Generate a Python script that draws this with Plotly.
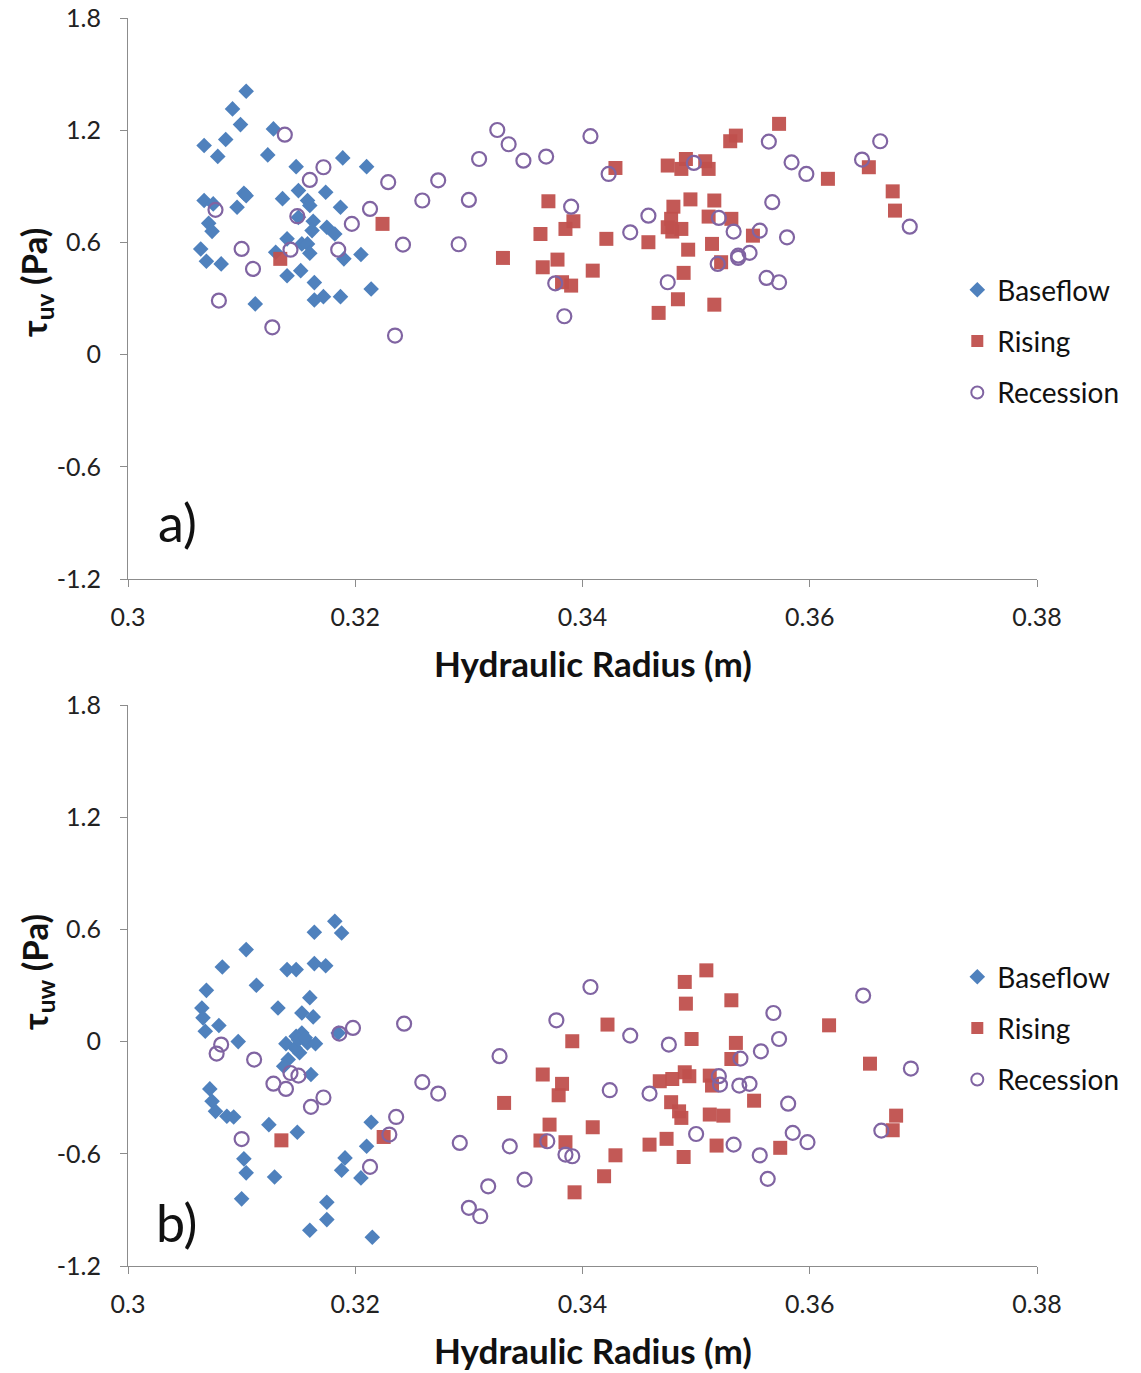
import plotly.graph_objects as go

# ---------------- Panel a) tau_uv ----------------
a_base_x = [0.3104, 0.3092, 0.3099, 0.3128, 0.3067, 0.3086, 0.3079, 0.3123, 0.3148, 0.3189,
            0.3210, 0.3067, 0.3102, 0.3104, 0.3096, 0.3136, 0.3150, 0.3158, 0.3160, 0.3174,
            0.3187, 0.3075, 0.3071, 0.3074, 0.3150, 0.3163, 0.3162, 0.3175, 0.3182, 0.3140,
            0.3153, 0.3158, 0.3160, 0.3190, 0.3205, 0.3064, 0.3069, 0.3082, 0.3130, 0.3140,
            0.3152, 0.3164, 0.3164, 0.3172, 0.3187, 0.3214, 0.3112]
a_base_y = [1.408, 1.314, 1.230, 1.207, 1.118, 1.150, 1.060, 1.068, 1.005, 1.052,
            1.005, 0.824, 0.863, 0.850, 0.788, 0.834, 0.877, 0.824, 0.797, 0.868,
            0.788, 0.806, 0.702, 0.659, 0.734, 0.713, 0.663, 0.681, 0.645, 0.619,
            0.592, 0.592, 0.542, 0.512, 0.535, 0.565, 0.499, 0.485, 0.547, 0.422,
            0.449, 0.385, 0.292, 0.310, 0.310, 0.351, 0.271]

a_rise_x = [0.3224, 0.3134, 0.3429, 0.3475, 0.3370, 0.3392, 0.3385, 0.3363, 0.3421, 0.3458,
            0.3330, 0.3378, 0.3365, 0.3382, 0.3390, 0.3409, 0.3467, 0.3573, 0.3535, 0.3530,
            0.3491, 0.3487, 0.3508, 0.3511, 0.3616, 0.3652, 0.3673, 0.3675, 0.3495, 0.3516,
            0.3480, 0.3511, 0.3531, 0.3478, 0.3475, 0.3479, 0.3487, 0.3493, 0.3514, 0.3550,
            0.3522, 0.3489, 0.3484, 0.3516]
a_rise_y = [0.699, 0.512, 0.998, 1.011, 0.820, 0.713, 0.672, 0.645, 0.619, 0.601,
            0.517, 0.508, 0.467, 0.387, 0.369, 0.449, 0.223, 1.234, 1.171, 1.141,
            1.046, 0.993, 1.034, 0.993, 0.940, 1.002, 0.873, 0.770, 0.830, 0.824,
            0.791, 0.738, 0.726, 0.726, 0.681, 0.658, 0.672, 0.561, 0.592, 0.636,
            0.494, 0.437, 0.296, 0.267]

a_rec_x = [0.3138, 0.3172, 0.3160, 0.3229, 0.3259, 0.3077, 0.3149, 0.3213, 0.3197, 0.3242,
           0.3100, 0.3143, 0.3185, 0.3110, 0.3080, 0.3127, 0.3235, 0.3325, 0.3335, 0.3309,
           0.3348, 0.3368, 0.3407, 0.3423, 0.3273, 0.3300, 0.3390, 0.3458, 0.3442, 0.3291,
           0.3376, 0.3475, 0.3384, 0.3564, 0.3662, 0.3646, 0.3584, 0.3597, 0.3498, 0.3567,
           0.3520, 0.3533, 0.3556, 0.3688, 0.3580, 0.3537, 0.3547, 0.3537, 0.3519, 0.3562,
           0.3573]
a_rec_y = [1.176, 1.002, 0.934, 0.922, 0.824, 0.774, 0.740, 0.779, 0.699, 0.588,
           0.565, 0.561, 0.561, 0.458, 0.289, 0.146, 0.102, 1.201, 1.125, 1.046,
           1.037, 1.059, 1.168, 0.966, 0.932, 0.827, 0.791, 0.743, 0.654, 0.590,
           0.381, 0.387, 0.205, 1.139, 1.141, 1.043, 1.028, 0.966, 1.025, 0.815,
           0.731, 0.658, 0.663, 0.684, 0.627, 0.529, 0.544, 0.517, 0.485, 0.410,
           0.387]

# ---------------- Panel b) tau_uw ----------------
b_base_x = [0.3182, 0.3188, 0.3164, 0.3104, 0.3083, 0.3140, 0.3148, 0.3164, 0.3174, 0.3069,
            0.3113, 0.3160, 0.3065, 0.3066, 0.3068, 0.3080, 0.3132, 0.3153, 0.3163, 0.3097,
            0.3139, 0.3148, 0.3153, 0.3158, 0.3165, 0.3151, 0.3147, 0.3141, 0.3137, 0.3161,
            0.3185, 0.3072, 0.3074, 0.3077, 0.3087, 0.3093, 0.3124, 0.3149, 0.3214, 0.3210,
            0.3102, 0.3104, 0.3129, 0.3191, 0.3188, 0.3205, 0.3100, 0.3175, 0.3175, 0.3160,
            0.3215, 0.3150, 0.3156]
b_base_y = [0.643, 0.581, 0.585, 0.492, 0.399, 0.385, 0.385, 0.417, 0.406, 0.274,
            0.301, 0.235, 0.180, 0.127, 0.055, 0.086, 0.180, 0.153, 0.132, 0.000,
            -0.011, 0.028, 0.046, -0.007, -0.011, -0.060, -0.034, -0.096, -0.132, -0.176,
            0.046, -0.253, -0.319, -0.373, -0.399, -0.403, -0.444, -0.485, -0.431, -0.560,
            -0.627, -0.702, -0.724, -0.622, -0.688, -0.729, -0.841, -0.859, -0.952, -1.009,
            -1.046, 0.010, 0.020]

b_rise_x = [0.3135, 0.3225, 0.3422, 0.3391, 0.3365, 0.3382, 0.3379, 0.3331, 0.3468, 0.3371,
            0.3409, 0.3363, 0.3385, 0.3429, 0.3459, 0.3474, 0.3419, 0.3393, 0.3509, 0.3490,
            0.3491, 0.3531, 0.3617, 0.3496, 0.3535, 0.3531, 0.3653, 0.3490, 0.3494, 0.3479,
            0.3512, 0.3514, 0.3551, 0.3478, 0.3485, 0.3487, 0.3512, 0.3524, 0.3676, 0.3673,
            0.3518, 0.3574, 0.3489]
b_rise_y = [-0.528, -0.510, 0.091, 0.002, -0.176, -0.226, -0.287, -0.328, -0.212, -0.444,
            -0.458, -0.529, -0.538, -0.608, -0.551, -0.520, -0.720, -0.806, 0.381, 0.319,
            0.203, 0.221, 0.087, 0.014, -0.007, -0.093, -0.118, -0.164, -0.185, -0.200,
            -0.182, -0.235, -0.316, -0.324, -0.373, -0.408, -0.390, -0.396, -0.396, -0.474,
            -0.556, -0.568, -0.617]

b_rec_x = [0.3243, 0.3198, 0.3186, 0.3082, 0.3078, 0.3111, 0.3143, 0.3150, 0.3128, 0.3139,
           0.3259, 0.3172, 0.3161, 0.3236, 0.3230, 0.3100, 0.3213, 0.3407, 0.3377, 0.3442,
           0.3476, 0.3327, 0.3273, 0.3424, 0.3459, 0.3292, 0.3336, 0.3369, 0.3385, 0.3391,
           0.3317, 0.3349, 0.3300, 0.3310, 0.3647, 0.3568, 0.3573, 0.3557, 0.3539, 0.3689,
           0.3520, 0.3521, 0.3538, 0.3547, 0.3581, 0.3500, 0.3585, 0.3598, 0.3663, 0.3533,
           0.3556, 0.3563]
b_rec_y = [0.096, 0.073, 0.043, -0.016, -0.064, -0.096, -0.168, -0.182, -0.225, -0.253,
           -0.217, -0.299, -0.349, -0.403, -0.497, -0.521, -0.670, 0.292, 0.114, 0.032,
           -0.016, -0.078, -0.278, -0.260, -0.278, -0.542, -0.560, -0.533, -0.604, -0.613,
           -0.774, -0.738, -0.889, -0.934, 0.246, 0.153, 0.014, -0.052, -0.091, -0.144,
           -0.185, -0.230, -0.235, -0.226, -0.332, -0.494, -0.488, -0.538, -0.476, -0.551,
           -0.608, -0.734]

series_names = ["Baseflow", "Rising", "Recession"]
x_ticks = [0.30, 0.32, 0.34, 0.36, 0.38]
x_tick_text = ["0.3", "0.32", "0.34", "0.36", "0.38"]
y_ticks = [-1.2, -0.6, 0, 0.6, 1.2, 1.8]
y_tick_text = ["-1.2", "-0.6", "0", "0.6", "1.2", "1.8"]

FONT = "Lato, 'Open Sans', sans-serif"
BLUE = "#4F81BD"
RED = "#C0504D"
PURPLE = "#8064A2"
AXIS = "#8C8C8C"

styles = [
    dict(mode="markers", marker=dict(symbol="diamond", size=12, color=BLUE)),
    dict(mode="markers", marker=dict(symbol="square", size=14, color=RED, opacity=0.95)),
    dict(mode="markers", marker=dict(symbol="circle-open", size=14, color=PURPLE,
                                     line=dict(width=2.2, color=PURPLE))),
]

fig = go.Figure()
panels = [
    ("x", "y", "legend", [(a_base_x, a_base_y), (a_rise_x, a_rise_y), (a_rec_x, a_rec_y)]),
    ("x2", "y2", "legend2", [(b_base_x, b_base_y), (b_rise_x, b_rise_y), (b_rec_x, b_rec_y)]),
]
for xa, ya, leg, data in panels:
    for i, (xs, ys) in enumerate(data):
        fig.add_trace(go.Scatter(x=xs, y=ys, name=series_names[i], xaxis=xa, yaxis=ya,
                                 legend=leg, legendgroup=leg + str(i), **styles[i]))

W, H = 1141, 1373
x0, x1 = 128 / W, 1037 / W
top_dom = [1 - 579 / H, 1 - 18 / H]
bot_dom = [1 - 1266 / H, 1 - 705 / H]

def xaxis(anchor):
    return dict(domain=[x0, x1], range=[0.3, 0.38], anchor=anchor, tickvals=x_ticks,
                ticktext=x_tick_text, showgrid=False, zeroline=False, showline=True,
                linecolor=AXIS, linewidth=1, ticks="outside", ticklen=7, tickcolor=AXIS,
                ticklabelstandoff=9, automargin=False,
                tickfont=dict(family=FONT, size=25, color="#222"))

def yaxis(anchor, dom):
    return dict(domain=dom, range=[-1.2, 1.8], anchor=anchor, tickvals=y_ticks,
                ticktext=y_tick_text, showgrid=False, zeroline=False, showline=True,
                linecolor=AXIS, linewidth=1, ticks="outside", ticklen=7, tickcolor=AXIS,
                ticklabelstandoff=14, automargin=False,
                tickfont=dict(family=FONT, size=25, color="#222"))

legend_common = dict(font=dict(family=FONT, size=28, color="#111"), bgcolor="rgba(0,0,0,0)",
                     tracegroupgap=12, xanchor="left", yanchor="top", itemsizing="constant")

fig.update_layout(
    width=W, height=H, margin=dict(l=0, r=0, t=0, b=0, autoexpand=False),
    paper_bgcolor="white", plot_bgcolor="white",
    xaxis=xaxis("y"), yaxis=yaxis("x", top_dom),
    xaxis2=xaxis("y2"), yaxis2=yaxis("x2", bot_dom),
    legend=dict(x=0.839, y=1 - 265 / H, **legend_common),
    legend2=dict(x=0.839, y=1 - 952 / H, **legend_common),
)

ann_font_title = dict(family=FONT, size=35, color="#111")
annotations = [
    dict(text="<b>Hydraulic Radius (m)</b>", x=593 / W, y=1 - 663 / H),
    dict(text="<b>Hydraulic Radius (m)</b>", x=593 / W, y=1 - 1350 / H),
    dict(text="<b>τ<sub>uv</sub> (Pa)</b>", x=36 / W, y=1 - 283 / H, textangle=-90),
    dict(text="<b>τ<sub>uw</sub> (Pa)</b>", x=36 / W, y=1 - 972 / H, textangle=-90),
]
for a in annotations:
    fig.add_annotation(xref="paper", yref="paper", showarrow=False, font=ann_font_title,
                       xanchor="center", yanchor="middle", **a)

for txt, yc in [("a)", 522), ("b)", 1222)]:
    fig.add_annotation(text=txt, xref="paper", yref="paper", x=177 / W, y=1 - yc / H,
                       showarrow=False, xanchor="center", yanchor="middle",
                       font=dict(family=FONT, size=52, color="#111"))

fig.write_html("out.html")
